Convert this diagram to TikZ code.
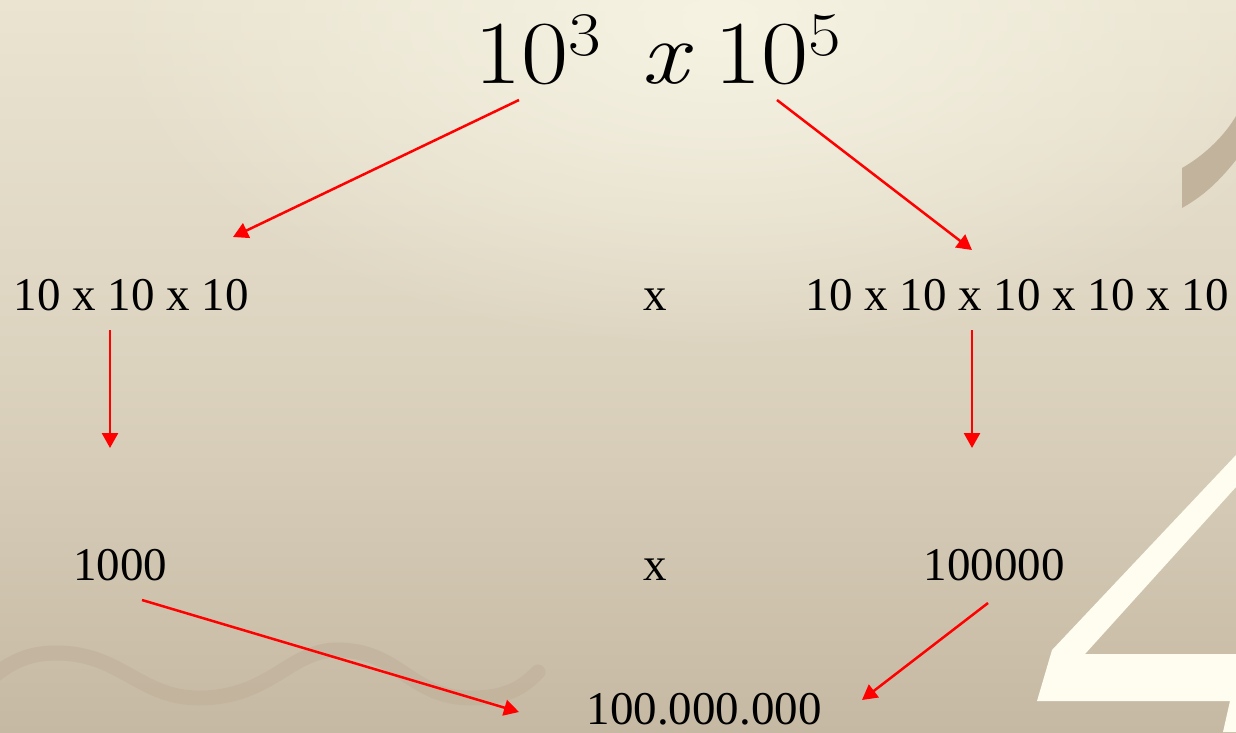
\documentclass[tikz,border=0pt]{standalone}
\usepackage{fontspec}
\setmainfont{Liberation Serif}
\newfontfamily\lmr{Latin Modern Roman}
\usetikzlibrary{arrows.meta,fadings}
\definecolor{bgtop}{HTML}{EAE4D1}
\definecolor{bgmid}{HTML}{DCD3BF}
\definecolor{bgbot}{HTML}{C6B9A3}
\definecolor{glow}{HTML}{F6F3E3}
\definecolor{decor}{HTML}{C2B39D}
\definecolor{four}{HTML}{FEFDF0}
\tikzfading[name=glowfade, inner color=transparent!0, outer color=transparent!100]
\newcommand{\supnum}[1]{\raisebox{28pt}{\fontsize{62}{62}\selectfont #1}}
\tikzset{
  lbl/.style={inner sep=0pt, anchor=base, font=\fontsize{47}{50}\selectfont},
  arr/.style={draw=red, line width=2.5pt, -{Triangle[length=15pt,width=16pt]}}
}
\begin{document}
\begin{tikzpicture}[x=1pt,y=-1pt]
\useasboundingbox (0,0) rectangle (1236,732);
% background
\shade[top color=bgtop, bottom color=bgbot, middle color=bgmid] (0,0) rectangle (1236,732);
\fill[glow, path fading=glowfade] (720,20) ellipse (620 and 330);
% decorations
\fill[decor] (1182,168) .. controls (1205,155) and (1225,135) .. (1236,116)
  -- (1236,160) .. controls (1220,180) and (1205,195) .. (1182,208) -- cycle;
\draw[decor, line width=15pt, line cap=round, opacity=0.8]
  (-5,675) .. controls (20,655) and (40,653) .. (57,653)
  .. controls (120,653) and (140,698) .. (199,698)
  .. controls (270,698) and (290,650) .. (337,650)
  .. controls (400,650) and (410,698) .. (471,698)
  .. controls (510,698) and (525,685) .. (538,672);
\fill[four] (1236,455) -- (1052,650) -- (1037,701) -- (1230,701) -- (1223,732)
  -- (1236,732) -- (1236,654) -- (1085,654) -- (1236,487) -- cycle;
% texts
\node[inner sep=0pt, anchor=base west, font=\lmr\fontsize{90}{100}\selectfont] (top) at (474,83)
  {\scalebox{1.14}[1]{10\supnum{3}\hspace{36pt}\textit{x}\hspace{18pt}10\supnum{5}}};
\node[lbl] (l1) at (131,310) {10 x 10 x 10};
\node[lbl] (x1) at (655,310) {x};
\node[lbl] (r1) at (1017,310) {10 x 10 x 10 x 10 x 10};
\node[lbl] (l2) at (120,580) {1000};
\node[lbl] (x2) at (655,580) {x};
\node[lbl] (r2) at (994,580) {100000};
\node[lbl] (res) at (704,724) {100.000.000};
% arrow end points
\coordinate (a1s) at (519,100); \coordinate (a1e) at (233,237);
\coordinate (a2s) at (777,100); \coordinate (a2e) at (972,250);
\coordinate (a3s) at (110,330); \coordinate (a3e) at (110,448);
\coordinate (a4s) at (972,330); \coordinate (a4e) at (972,448);
\coordinate (a5s) at (142,600); \coordinate (a5e) at (519,712);
\coordinate (a6s) at (988,603); \coordinate (a6e) at (862,700);
\draw[arr] (a1s) -- (a1e);
\draw[arr] (a2s) -- (a2e);
\draw[arr] (a3s) -- (a3e);
\draw[arr] (a4s) -- (a4e);
\draw[arr] (a5s) -- (a5e);
\draw[arr] (a6s) -- (a6e);
\end{tikzpicture}
\end{document}
